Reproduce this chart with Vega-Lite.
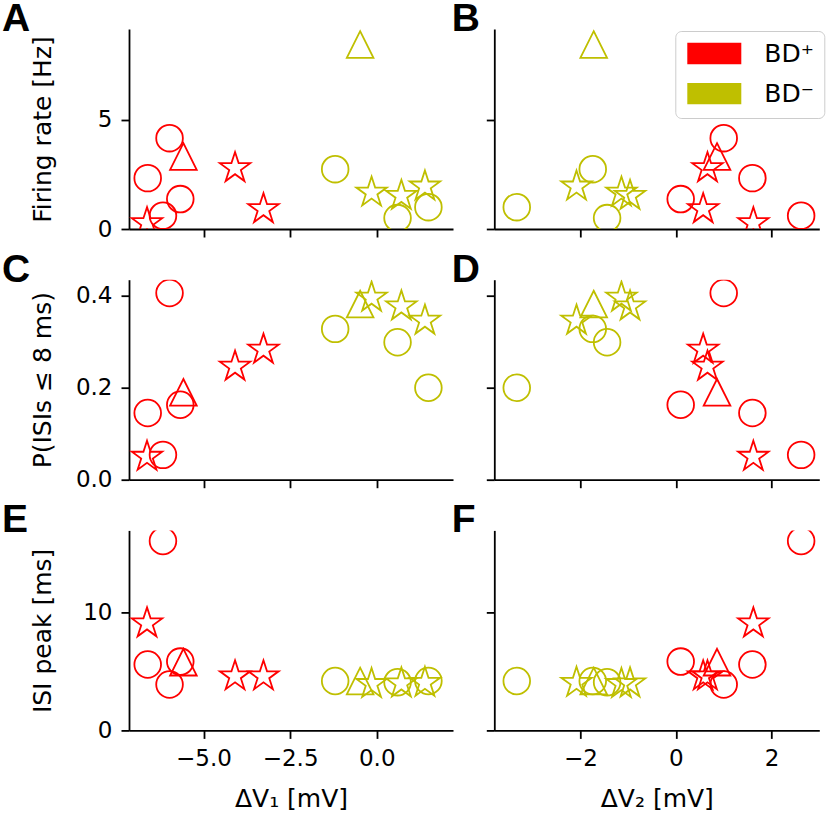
{
  "$schema": "https://vega.github.io/schema/vega-lite/v6.json",
  "background": "white",
  "padding": {"left": 2, "top": 0, "right": 2, "bottom": 2},
  "datasets": {
    "cells": [
      {"g": "BD⁺", "s": "circle", "v1": -5.98, "v2": 1.00, "fr": 4.16, "p": 0.406, "isi": 3.9},
      {"g": "BD⁺", "s": "triangle", "v1": -5.58, "v2": 0.86, "fr": 3.32, "p": 0.190, "isi": 5.8},
      {"g": "BD⁺", "s": "circle", "v1": -6.61, "v2": 1.60, "fr": 2.33, "p": 0.145, "isi": 5.6},
      {"g": "BD⁺", "s": "circle", "v1": -5.67, "v2": 0.10, "fr": 1.37, "p": 0.163, "isi": 5.85},
      {"g": "BD⁺", "s": "circle", "v1": -6.17, "v2": 2.62, "fr": 0.61, "p": 0.054, "isi": 16.1},
      {"g": "BD⁺", "s": "star", "v1": -6.63, "v2": 1.62, "fr": 0.27, "p": 0.050, "isi": 9.1},
      {"g": "BD⁺", "s": "star", "v1": -4.09, "v2": 0.66, "fr": 2.79, "p": 0.246, "isi": 4.6},
      {"g": "BD⁺", "s": "star", "v1": -3.27, "v2": 0.57, "fr": 0.91, "p": 0.283, "isi": 4.6},
      {"g": "BD⁻", "s": "triangle", "v1": -0.48, "v2": -1.72, "fr": 8.45, "p": 0.382, "isi": 4.2},
      {"g": "BD⁻", "s": "circle", "v1": -1.20, "v2": -1.74, "fr": 2.74, "p": 0.328, "isi": 4.2},
      {"g": "BD⁻", "s": "star", "v1": -0.15, "v2": -1.14, "fr": 1.67, "p": 0.396, "isi": 3.95},
      {"g": "BD⁻", "s": "star", "v1": 0.71, "v2": -0.96, "fr": 1.52, "p": 0.377, "isi": 4.0},
      {"g": "BD⁻", "s": "circle", "v1": 0.60, "v2": -1.44, "fr": 0.50, "p": 0.299, "isi": 4.1},
      {"g": "BD⁻", "s": "star", "v1": 1.39, "v2": -2.08, "fr": 1.95, "p": 0.346, "isi": 4.05},
      {"g": "BD⁻", "s": "circle", "v1": 1.49, "v2": -3.33, "fr": 1.00, "p": 0.200, "isi": 4.2}
    ]
  },
  "columns": 2,
  "spacing": {"row": 50.7, "column": 41.3},
  "bounds": "flush",
  "resolve": {"legend": {"color": "independent", "shape": "independent"}},
  "concat": [
    {
      "data": {"name": "cells"},
      "width": 324, "height": 200,
      "title": {"text": "A", "anchor": "start", "frame": "group", "dx": -127, "dy": 38, "offset": -3, "baseline": "alphabetic"},
      "mark": {"type": "point", "filled": false, "size": 710, "strokeWidth": 1.8, "opacity": 1, "clip": true},
      "encoding": {
        "x": {"field": "v1", "type": "quantitative", "scale": {"domain": [-7.15, 2.2], "nice": false, "zero": false}, "axis": {"values": [-5, -2.5, 0], "labels": false, "title": null}},
        "y": {"field": "fr", "type": "quantitative", "scale": {"domain": [0, 9.16], "nice": false, "zero": false}, "axis": {"values": [0, 5], "title": "Firing rate [Hz]", "titleX": -79, "titleY": 100, "titleBaseline": "alphabetic"}},
        "color": {"field": "g", "type": "nominal", "scale": {"domain": ["BD⁺", "BD⁻"], "range": ["#ff0000", "#bfbf00"]}, "legend": null},
        "shape": {"field": "s", "type": "nominal", "scale": {"domain": ["circle", "triangle", "star"], "range": ["circle", "M0,-1L1,1L-1,1Z", "M0,-1.2L0.269,-0.371L1.141,-0.371L0.436,0.142L0.705,0.971L0,0.458L-0.705,0.971L-0.436,0.142L-1.141,-0.371L-0.269,-0.371Z"]}, "legend": null}
      }
    },
    {
      "data": {"name": "cells"},
      "width": 325, "height": 200,
      "title": {"text": "B", "anchor": "start", "frame": "group", "dx": -42.6, "dy": 38, "offset": -3, "baseline": "alphabetic"},
      "mark": {"type": "point", "filled": false, "size": 710, "strokeWidth": 1.8, "opacity": 1, "clip": true},
      "encoding": {
        "x": {"field": "v2", "type": "quantitative", "scale": {"domain": [-3.8, 3.0], "nice": false, "zero": false}, "axis": {"values": [-2, 0, 2], "labels": false, "title": null}},
        "y": {"field": "fr", "type": "quantitative", "scale": {"domain": [0, 9.16], "nice": false, "zero": false}, "axis": {"values": [0, 5], "labels": false, "title": null}},
        "color": {"field": "g", "type": "nominal", "scale": {"domain": ["BD⁺", "BD⁻"], "range": ["#ff0000", "#bfbf00"]},
          "legend": {
            "orient": "none", "legendX": 181, "legendY": 2, "direction": "vertical", "title": null,
            "symbolType": "M-1,-0.9H4.143M-1,-0.7H4.143M-1,-0.5H4.143M-1,-0.3H4.143M-1,-0.1H4.143M-1,0.1H4.143M-1,0.3H4.143M-1,0.5H4.143M-1,0.7H4.143M-1,0.9H4.143",
            "symbolSize": 441, "symbolStrokeWidth": 2.4, "symbolOpacity": 1,
            "labelFontSize": 25, "labelFont": "DejaVu Sans", "labelColor": "black", "labelOffset": 54,
            "rowPadding": 11.2, "padding": 10,
            "fillColor": "white", "strokeColor": "#cccccc", "cornerRadius": 6,
            "encode": {
              "legend": {"strokeWidth": {"value": 1.5}}
            }
          }},
        "shape": {"field": "s", "type": "nominal", "scale": {"domain": ["circle", "triangle", "star"], "range": ["circle", "M0,-1L1,1L-1,1Z", "M0,-1.2L0.269,-0.371L1.141,-0.371L0.436,0.142L0.705,0.971L0,0.458L-0.705,0.971L-0.436,0.142L-1.141,-0.371L-0.269,-0.371Z"]}, "legend": null}
      }
    },
    {
      "data": {"name": "cells"},
      "width": 324, "height": 200,
      "title": {"text": "C", "anchor": "start", "frame": "group", "dx": -127, "dy": 38, "offset": -3, "baseline": "alphabetic"},
      "mark": {"type": "point", "filled": false, "size": 710, "strokeWidth": 1.8, "opacity": 1, "clip": true},
      "encoding": {
        "x": {"field": "v1", "type": "quantitative", "scale": {"domain": [-7.15, 2.2], "nice": false, "zero": false}, "axis": {"values": [-5, -2.5, 0], "labels": false, "title": null}},
        "y": {"field": "p", "type": "quantitative", "scale": {"domain": [0, 0.435], "nice": false, "zero": false}, "axis": {"values": [0, 0.2, 0.4], "format": ".1f", "title": "P(ISIs ≤ 8 ms)", "titleX": -79, "titleY": 100, "titleBaseline": "alphabetic"}},
        "color": {"field": "g", "type": "nominal", "scale": {"domain": ["BD⁺", "BD⁻"], "range": ["#ff0000", "#bfbf00"]}, "legend": null},
        "shape": {"field": "s", "type": "nominal", "scale": {"domain": ["circle", "triangle", "star"], "range": ["circle", "M0,-1L1,1L-1,1Z", "M0,-1.2L0.269,-0.371L1.141,-0.371L0.436,0.142L0.705,0.971L0,0.458L-0.705,0.971L-0.436,0.142L-1.141,-0.371L-0.269,-0.371Z"]}, "legend": null}
      }
    },
    {
      "data": {"name": "cells"},
      "width": 325, "height": 200,
      "title": {"text": "D", "anchor": "start", "frame": "group", "dx": -42.6, "dy": 38, "offset": -3, "baseline": "alphabetic"},
      "mark": {"type": "point", "filled": false, "size": 710, "strokeWidth": 1.8, "opacity": 1, "clip": true},
      "encoding": {
        "x": {"field": "v2", "type": "quantitative", "scale": {"domain": [-3.8, 3.0], "nice": false, "zero": false}, "axis": {"values": [-2, 0, 2], "labels": false, "title": null}},
        "y": {"field": "p", "type": "quantitative", "scale": {"domain": [0, 0.435], "nice": false, "zero": false}, "axis": {"values": [0, 0.2, 0.4], "labels": false, "title": null}},
        "color": {"field": "g", "type": "nominal", "scale": {"domain": ["BD⁺", "BD⁻"], "range": ["#ff0000", "#bfbf00"]}, "legend": null},
        "shape": {"field": "s", "type": "nominal", "scale": {"domain": ["circle", "triangle", "star"], "range": ["circle", "M0,-1L1,1L-1,1Z", "M0,-1.2L0.269,-0.371L1.141,-0.371L0.436,0.142L0.705,0.971L0,0.458L-0.705,0.971L-0.436,0.142L-1.141,-0.371L-0.269,-0.371Z"]}, "legend": null}
      }
    },
    {
      "data": {"name": "cells"},
      "width": 324, "height": 200,
      "title": {"text": "E", "anchor": "start", "frame": "group", "dx": -127, "dy": 38, "offset": -3, "baseline": "alphabetic"},
      "mark": {"type": "point", "filled": false, "size": 710, "strokeWidth": 1.8, "opacity": 1, "clip": true},
      "encoding": {
        "x": {"field": "v1", "type": "quantitative", "scale": {"domain": [-7.15, 2.2], "nice": false, "zero": false}, "axis": {"values": [-5, -2.5, 0], "format": ".1f", "title": "ΔV₁ [mV]", "titleY": 75.7, "titleBaseline": "alphabetic"}},
        "y": {"field": "isi", "type": "quantitative", "scale": {"domain": [0, 17], "nice": false, "zero": false}, "axis": {"values": [0, 10], "title": "ISI peak [ms]", "titleX": -79, "titleY": 100, "titleBaseline": "alphabetic"}},
        "color": {"field": "g", "type": "nominal", "scale": {"domain": ["BD⁺", "BD⁻"], "range": ["#ff0000", "#bfbf00"]}, "legend": null},
        "shape": {"field": "s", "type": "nominal", "scale": {"domain": ["circle", "triangle", "star"], "range": ["circle", "M0,-1L1,1L-1,1Z", "M0,-1.2L0.269,-0.371L1.141,-0.371L0.436,0.142L0.705,0.971L0,0.458L-0.705,0.971L-0.436,0.142L-1.141,-0.371L-0.269,-0.371Z"]}, "legend": null}
      }
    },
    {
      "data": {"name": "cells"},
      "width": 325, "height": 200,
      "title": {"text": "F", "anchor": "start", "frame": "group", "dx": -42.6, "dy": 38, "offset": -3, "baseline": "alphabetic"},
      "mark": {"type": "point", "filled": false, "size": 710, "strokeWidth": 1.8, "opacity": 1, "clip": true},
      "encoding": {
        "x": {"field": "v2", "type": "quantitative", "scale": {"domain": [-3.8, 3.0], "nice": false, "zero": false}, "axis": {"values": [-2, 0, 2], "title": "ΔV₂ [mV]", "titleY": 75.7, "titleBaseline": "alphabetic"}},
        "y": {"field": "isi", "type": "quantitative", "scale": {"domain": [0, 17], "nice": false, "zero": false}, "axis": {"values": [0, 10], "labels": false, "title": null}},
        "color": {"field": "g", "type": "nominal", "scale": {"domain": ["BD⁺", "BD⁻"], "range": ["#ff0000", "#bfbf00"]}, "legend": null},
        "shape": {"field": "s", "type": "nominal", "scale": {"domain": ["circle", "triangle", "star"], "range": ["circle", "M0,-1L1,1L-1,1Z", "M0,-1.2L0.269,-0.371L1.141,-0.371L0.436,0.142L0.705,0.971L0,0.458L-0.705,0.971L-0.436,0.142L-1.141,-0.371L-0.269,-0.371Z"]}, "legend": null}
      }
    }
  ],
  "config": {
    "view": {"stroke": null},
    "font": "DejaVu Sans",
    "title": {"font": "Liberation Sans", "fontSize": 39, "fontWeight": "bold", "color": "black"},
    "axis": {
      "grid": false,
      "domainColor": "black", "domainWidth": 1.8,
      "tickColor": "black", "tickWidth": 1.8, "tickSize": 8,
      "labelFont": "DejaVu Sans", "labelFontSize": 23, "labelColor": "black", "labelPadding": 9,
      "titleFont": "DejaVu Sans", "titleFontSize": 25, "titleFontWeight": "normal", "titleColor": "black"
    }
  }
}
